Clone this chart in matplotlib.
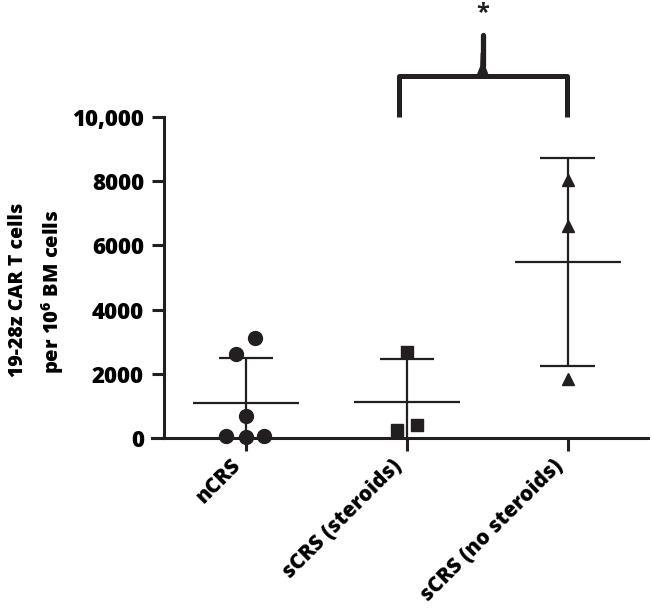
import numpy as np
import matplotlib.pyplot as plt
import matplotlib.transforms as mtransforms
from matplotlib.patches import Polygon

plt.rcParams['font.family'] = ['Open Sans', 'DejaVu Sans']
plt.rcParams['font.weight'] = 'heavy'
plt.rcParams['mathtext.default'] = 'regular'

# data
groups = ['nCRS', 'sCRS (steroids)', 'sCRS (no steroids)']
ncrs = [3100, 2620, 700, 50, 30, 60]
scrs_steroids = [2680, 250, 400]
scrs_no_steroids = [8040, 6600, 1840]
# horizontal jitter of the dots (in category units)
ncrs_jitter = [0.056, -0.062, 0.0, -0.124, 0.0, 0.11]
scrs_steroids_jitter = [0.0, -0.062, 0.062]
scrs_no_steroids_jitter = [0.0, 0.0, 0.0]

values = [ncrs, scrs_steroids, scrs_no_steroids]
jitters = [ncrs_jitter, scrs_steroids_jitter, scrs_no_steroids_jitter]
markers = ['o', 's', '^']
msizes = [10, 8.5, 9]

yticks = [0, 2000, 4000, 6000, 8000, 10000]
ytick_labels = ['0', '2000', '4000', '6000', '8000', '10,000']

ink = '#231f20'

fig = plt.figure(figsize=(6.52, 6.09), dpi=100)
ax = fig.add_axes([152 / 652, 1 - 438 / 609, 496 / 652, 321 / 609])

# mean +/- SD for each group, then the individual points
for i, (vals, jit, m, ms) in enumerate(zip(values, jitters, markers, msizes)):
    vals = np.array(vals, dtype=float)
    mean = vals.mean()
    sd = vals.std(ddof=1)
    ax.vlines(i, mean - sd, mean + sd, color=ink, lw=1.6, zorder=2)
    ax.hlines([mean - sd, mean + sd], i - 0.17, i + 0.17, color=ink, lw=1.6, zorder=2)
    ax.hlines(mean, i - 0.33, i + 0.33, color=ink, lw=1.6, zorder=2)
    ax.plot(i + np.array(jit), vals, linestyle='none', marker=m, markersize=ms,
            color=ink, zorder=3, clip_on=False)

ax.set_xlim(-0.585, 2.5)
ax.set_ylim(0, 10000)

for s in ['top', 'right']:
    ax.spines[s].set_visible(False)
ax.spines['left'].set_position(('data', -0.51))
ax.spines['left'].set_bounds(0, 10000)
for s in ['left', 'bottom']:
    ax.spines[s].set_linewidth(2.2)
    ax.spines[s].set_color(ink)

ax.set_yticks(yticks)
ax.set_yticklabels(ytick_labels, fontsize=16, fontweight='heavy')
ax.tick_params(axis='y', length=8.5, width=2.2, pad=6, color=ink)
ax.set_xticks(range(len(groups)))
ax.set_xticklabels(groups, fontsize=15, fontweight='heavy', rotation=45,
                   ha='right', va='baseline', rotation_mode='anchor')
ax.tick_params(axis='x', length=9.5, width=2.2, pad=11, color=ink)
shift = mtransforms.ScaledTranslation(-3 / 72, 0, fig.dpi_scale_trans)
for lab in ax.get_xticklabels():
    lab.set_transform(lab.get_transform() + shift)

fig.text(18 / 652, 1 - 290 / 609, '19-28z CAR T cells', rotation=90, ha='center',
         va='center', fontsize=14, fontweight='heavy')
fig.text(53 / 652, 1 - 292 / 609, 'per 10$^{6}$ BM cells', rotation=90,
         ha='center', va='center', fontsize=14.5, fontweight='heavy')

# significance bracket between the two sCRS groups
bx0, bx1 = 0.95, 1.994
bmid = (bx0 + bx1) / 2
btop = 11280
ax.plot([bx0, bx0, bx1, bx1], [10000, btop, btop, 10000], color=ink, lw=3.6,
        solid_joinstyle='round', solid_capstyle='butt', clip_on=False)
ax.add_patch(Polygon([[bmid - 0.035, btop + 60], [bmid - 0.016, btop + 300],
                      [bmid - 0.013, 12000], [bmid + 0.013, 12000],
                      [bmid + 0.016, btop + 300], [bmid + 0.035, btop + 60]],
                     closed=True, color=ink, clip_on=False, lw=0))
ax.plot([bmid, bmid], [btop + 300, 12560], color=ink, lw=3.8,
        solid_capstyle='round', clip_on=False)
ax.text(bmid, 13250, '*', ha='center', va='center', fontsize=17, fontweight='bold',
        color=ink)

fig.savefig('out.png', dpi=100)
